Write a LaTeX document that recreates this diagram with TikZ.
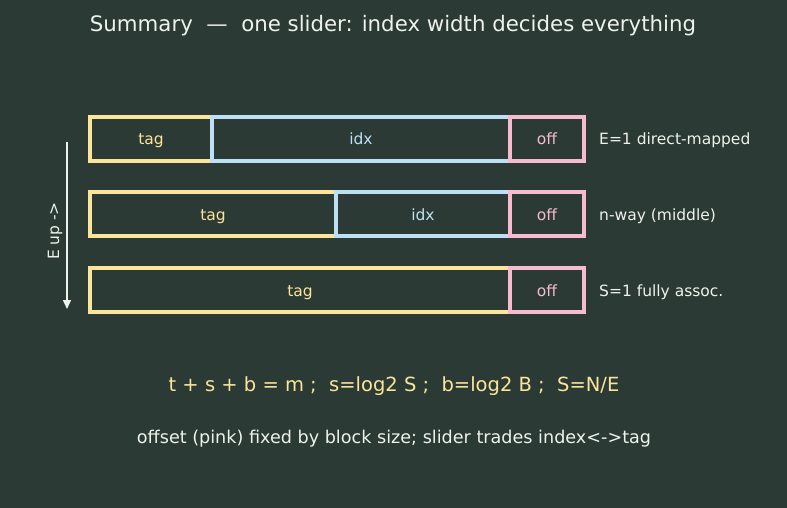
\documentclass[tikz,border=0pt]{standalone}
\usepackage{fontspec}
\setmainfont{DejaVu Sans}
\usetikzlibrary{arrows.meta}
\definecolor{bg}{HTML}{2B3A34}
\definecolor{ylw}{HTML}{FBE59B}
\definecolor{blu}{HTML}{BEE0F5}
\definecolor{pnk}{HTML}{F6BCCD}
\definecolor{txt}{HTML}{EEF2EC}
\tikzset{
  fld/.style={draw=#1, line width=3.6pt, text=#1, inner sep=0pt, text height=12pt, text depth=0pt, font=\fontsize{15.5}{17}\selectfont},
  lbl/.style={anchor=west, text=txt, font=\fontsize{15.5}{17}\selectfont, inner sep=0pt, text height=12pt, text depth=0pt},
}
\begin{document}
\begin{tikzpicture}[x=1pt,y=-1pt]
\fill[bg] (0,0) rectangle (787,508);
\useasboundingbox (0,0) rectangle (787,508);
\node[text=txt, font=\fontsize{21.3}{24}\selectfont] (title) at (393,26) {Summary \ — \ one slider: index width decides everything};
% row 1
\node[fld=ylw, minimum width=122pt, minimum height=44pt] (t1) at (151,139) {tag};
\node[fld=blu, minimum width=298pt, minimum height=44pt] (i1) at (361,139) {idx};
\node[fld=pnk, minimum width=74pt, minimum height=44pt] (o1) at (547,139) {off};
\node[lbl] (l1) at (599,139) {E=1 direct-mapped};
% row 2
\node[fld=ylw, minimum width=246pt, minimum height=44pt] (t2) at (213,214) {tag};
\node[fld=blu, minimum width=174pt, minimum height=44pt] (i2) at (423,214) {idx};
\node[fld=pnk, minimum width=74pt, minimum height=44pt] (o2) at (547,214) {off};
\node[lbl] (l2) at (599,214) {n-way (middle)};
% row 3
\node[fld=ylw, minimum width=420pt, minimum height=44pt] (t3) at (300,290) {tag};
\node[fld=pnk, minimum width=74pt, minimum height=44pt] (o3) at (547,290) {off};
\node[lbl] (l3) at (599,290) {S=1 fully assoc.};
% arrow
\coordinate (a0) at (67,142);
\coordinate (a1) at (67,309);
\draw[txt, line width=1.5pt, -{Triangle[length=9pt,width=8pt]}] (a0) -- (a1);
\node[text=txt, rotate=90, font=\fontsize{15.5}{17}\selectfont] (eup) at (55,231) {E up ->};
% formulas
\node[text=ylw, font=\fontsize{19.5}{22}\selectfont] (f) at (394,386) {t + s + b = m ; \ s=log2 S ; \ b=log2 B ; \ S=N/E};
\node[text=txt, font=\fontsize{17.6}{20}\selectfont] (n) at (394,439) {offset (pink) fixed by block size; slider trades index<->tag};
\end{tikzpicture}
\end{document}
